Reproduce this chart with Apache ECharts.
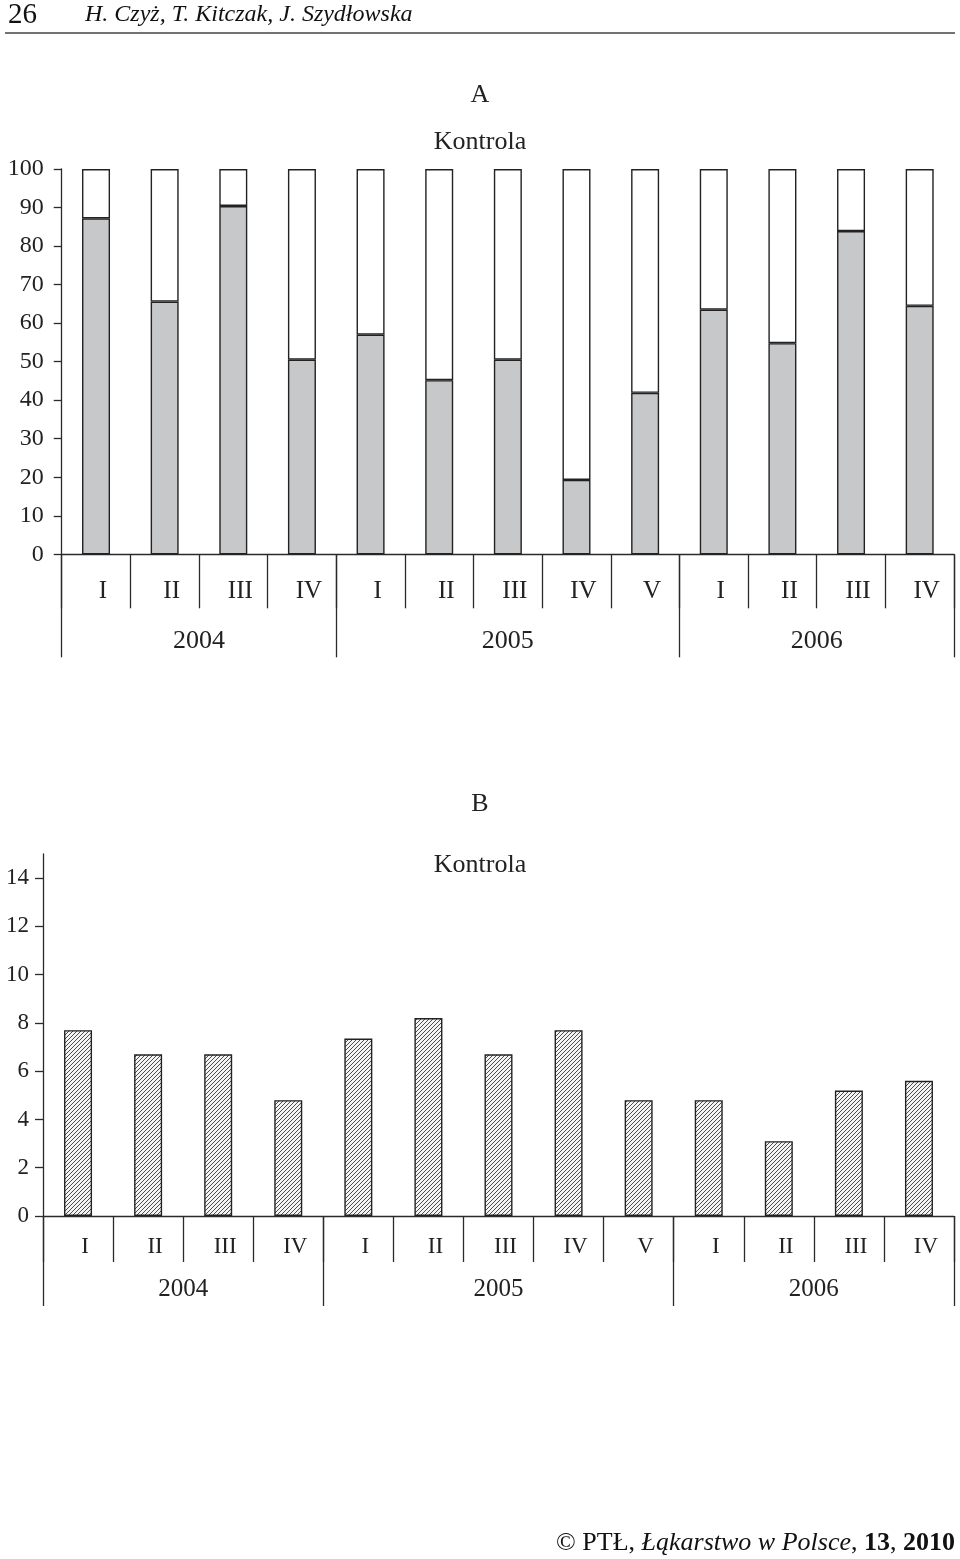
<!DOCTYPE html>
<html>
<head>
<meta charset="utf-8">
<script src="https://cdn.jsdelivr.net/npm/echarts@6/dist/echarts.min.js"></script>
<style>
html,body{margin:0;padding:0;background:#fff;}
#chart{width:960px;height:1559px;}
</style>
</head>
<body>
<div id="chart"></div>
<script>
// ---- data ----
const quarters = ['I','II','III','IV','I','II','III','IV','V','I','II','III','IV'];
const years = ['2004','2005','2006'];
const yearSpans = [4, 5, 4];           // number of quarters per year
const shareA = [87.2, 65.6, 90.4, 50.5, 57.0, 45.2, 50.5, 19.3, 41.9, 63.5, 54.8, 83.9, 64.5];
const restA  = [12.8, 34.4, 9.6, 49.5, 43.0, 54.8, 49.5, 80.7, 58.1, 36.5, 45.2, 16.1, 35.5];
const valuesB = [7.7, 6.7, 6.7, 4.8, 7.35, 8.2, 6.7, 7.7, 4.8, 4.8, 3.1, 5.2, 5.6];
const ticksA = [0,10,20,30,40,50,60,70,80,90,100];
const ticksB = [0,2,4,6,8,10,12,14];

// year boundaries and centers on a 0..13 scale
const yearBounds = [0];
yearSpans.forEach(s => yearBounds.push(yearBounds[yearBounds.length-1] + s));
const yearCenters = years.map((y,i) => (yearBounds[i] + yearBounds[i+1]) / 2);

const FONT = '"Liberation Serif", "Times New Roman", serif';
const INK = '#2a2a2a';

// hatch pattern
const pat = document.createElement('canvas');
pat.width = 4; pat.height = 4;
const pc = pat.getContext('2d');
pc.fillStyle = '#f4f4f4'; pc.fillRect(0,0,4,4);
pc.strokeStyle = '#3a3a3a'; pc.lineWidth = 0.9;
pc.beginPath();
pc.moveTo(0,4); pc.lineTo(4,0);
pc.moveTo(-1,1); pc.lineTo(1,-1);
pc.moveTo(3,5); pc.lineTo(5,3);
pc.stroke();

function catAxis(gridIndex, tickLen, margin, fs) {
  return {
    type: 'category', gridIndex, data: quarters, boundaryGap: true,
    axisLine: {lineStyle: {color: INK, width: 1.3}},
    axisTick: {show: true, interval: 0, length: tickLen, lineStyle: {color: INK, width: 1.3}},
    axisLabel: {interval: 0, margin, color: '#222', fontFamily: FONT, fontSize: fs, padding: [0,0,0,14]}
  };
}
function yearAxis(gridIndex, tickLen, margin, fs) {
  return {
    type: 'value', gridIndex, min: 0, max: quarters.length, position: 'bottom',
    axisLine: {show: false},
    splitLine: {show: false},
    axisTick: {show: true, length: tickLen, customValues: yearBounds, lineStyle: {color: INK, width: 1.3}},
    axisLabel: {
      show: true, margin, customValues: yearCenters, color: '#222', fontFamily: FONT, fontSize: fs,
      formatter: v => { const i = yearCenters.indexOf(v); return i >= 0 ? years[i] : ''; }
    }
  };
}
function valAxis(gridIndex, max, ticks, fs, margin) {
  return {
    type: 'value', gridIndex, min: 0, max,
    axisLine: {show: true, lineStyle: {color: INK, width: 1.3}},
    axisTick: {show: true, length: 8, customValues: ticks, lineStyle: {color: INK, width: 1.3}},
    axisLabel: {customValues: ticks, color: '#222', fontFamily: FONT, fontSize: fs, margin},
    splitLine: {show: false}
  };
}

const titleStyle = {fontFamily: FONT, fontSize: 26, fontWeight: 'normal', color: '#222'};
const chart = echarts.init(document.getElementById('chart'));
chart.setOption({
  animation: false,
  backgroundColor: '#fff',
  title: [
    {text: 'A', left: 'center', top: 77, textStyle: titleStyle},
    {text: 'Kontrola', left: 'center', top: 124, textStyle: titleStyle},
    {text: 'B', left: 'center', top: 786, textStyle: titleStyle},
    {text: 'Kontrola', left: 'center', top: 847, textStyle: titleStyle}
  ],
  grid: [
    {left: 61.7, right: 6, top: 169, bottom: 1559 - 554.3},
    {left: 43, right: 6, top: 854, bottom: 1559 - 1216}
  ],
  xAxis: [
    catAxis(0, 54, 25, 25),
    yearAxis(0, 103, 74, 26),
    catAxis(1, 46, 19, 23),
    yearAxis(1, 90, 61, 25)
  ],
  yAxis: [
    valAxis(0, 100, ticksA, 24, 18),
    valAxis(1, 15, ticksB, 23, 14)
  ],
  series: [
    {type: 'bar', xAxisIndex: 0, yAxisIndex: 0, stack: 'a', data: shareA, barWidth: 28,
     itemStyle: {color: '#c7c8ca', borderColor: '#222', borderWidth: 1.4}},
    {type: 'bar', xAxisIndex: 0, yAxisIndex: 0, stack: 'a', data: restA, barWidth: 28,
     itemStyle: {color: '#ffffff', borderColor: '#222', borderWidth: 1.4}},
    {type: 'bar', xAxisIndex: 2, yAxisIndex: 1, data: valuesB, barWidth: 28,
     itemStyle: {color: {image: pat, repeat: 'repeat'}, borderColor: '#222', borderWidth: 1.4}}
  ],
  graphic: [
    {type: 'text', left: 8, top: 1, style: {text: '26', font: '29px ' + FONT, fill: '#111'}},
    {type: 'text', left: 85, top: 3, style: {text: 'H. Czyż, T. Kitczak, J. Szydłowska', font: 'italic 24px ' + FONT, fill: '#111'}},
    {type: 'line', shape: {x1: 5, y1: 33, x2: 955, y2: 33}, style: {stroke: '#444', lineWidth: 1.5}},
    {type: 'text', right: 5, top: 1530, style: {
      text: '© PTŁ, {i|Łąkarstwo w Polsce}, {b|13}, {b|2010}',
      font: '26px ' + FONT, fill: '#111',
      rich: {
        i: {fontFamily: FONT, fontSize: 26, fontStyle: 'italic', fill: '#111'},
        b: {fontFamily: FONT, fontSize: 26, fontWeight: 'bold', fill: '#111'}
      }
    }}
  ]
});
</script>
</body>
</html>
